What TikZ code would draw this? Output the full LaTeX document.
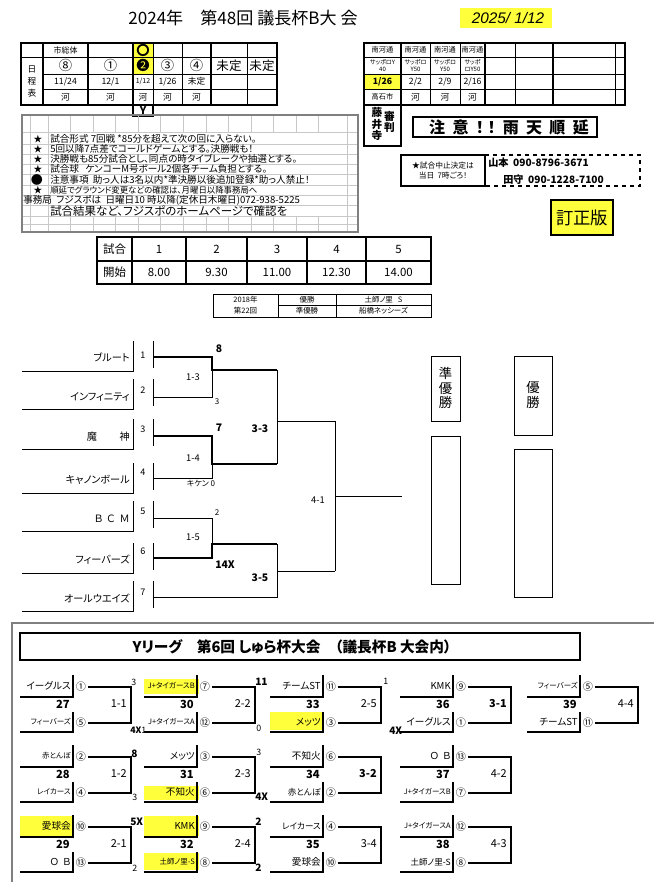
\documentclass[tikz,border=0pt]{standalone}
\usepackage{fontspec}
\setmainfont{Noto Sans CJK JP}[RawFeature=+palt]
\newfontfamily\datefont{Liberation Sans}
\usepackage{xcolor}
\definecolor{MarkYellow}{HTML}{FFFF3C}
\definecolor{GridGray}{HTML}{C8C8C8}
\definecolor{FrameGray}{HTML}{808080}
\usetikzlibrary{positioning, calc}

\newcommand{\pxfont}[1]{\fontsize{#1pt}{#1pt}\selectfont}
\newcommand{\smallname}{\pxfont{5.6}}
\newcommand{\midname}{\pxfont{6.4}}

% Y-Liga Spielblock: #1 x, #2 y, #3 Spiel, #4 Ergebnis, #5 Team oben, #6 Nr oben, #7 Team unten, #8 Nr unten
\newcommand{\ymatch}[8]{%
  \draw[yline] (#1,#2+10) -- (#1+53,#2+10) -- (#1+53,#2-12);
  \draw[yline] (#1,#2+45) -- (#1+53,#2+45) -- (#1+53,#2+25);
  \draw[ybr] (#1+68,#2) -- (#1+111,#2) -- (#1+111,#2+36) -- (#1+68,#2+36);
  \node[yname] (g#3a) at (#1+51,#2-1) {#5};
  \node[yname] (g#3b) at (#1+51,#2+35) {#7};
  \node[ycirc] (g#3na) at (#1+61,#2) {#6};
  \node[ycirc] (g#3nb) at (#1+61,#2+36) {#8};
  \node[ygame] (g#3) at (#1+50,#2+17) {#3};
  \node[yscore] (g#3s) at (#1+107,#2+17) {#4};
}

\begin{document}
\begin{tikzpicture}[x=0.75pt, y={(0pt,-0.75pt)},
  % Linien
  frame/.style={line width=1.6pt},
  cellline/.style={line width=0.6pt},
  gridline/.style={draw=GridGray, line width=0.4pt},
  winline/.style={line width=2.2pt},
  teamline/.style={line width=0.7pt},
  yline/.style={line width=1pt},
  ybr/.style={line width=1.3pt},
  % Texte
  cell/.style={inner sep=0pt, font=\pxfont{6.5}},
  smalltxt/.style={inner sep=0pt, font=\fontsize{4.5pt}{5.6pt}\selectfont, align=center},
  note/.style={inner sep=0pt, anchor=west, font=\pxfont{7.2}},
  team/.style={inner sep=0pt, anchor=east, font=\pxfont{7.6}},
  seed/.style={inner sep=0pt, font=\pxfont{6.8}},
  res/.style={inner sep=0pt, font=\pxfont{7}},
  bres/.style={inner sep=0pt, font=\pxfont{7.8}\bfseries},
  yname/.style={inner sep=0pt, anchor=east, font=\pxfont{7.2}},
  ycirc/.style={inner sep=0pt, font=\pxfont{7.6}},
  ygame/.style={inner sep=0pt, anchor=east, font=\pxfont{8.4}\bfseries},
  yscore/.style={inner sep=0pt, anchor=east, font=\pxfont{8.2}},
  yres/.style={inner sep=0pt, anchor=west, font=\pxfont{6.6}},
  yresb/.style={inner sep=0pt, anchor=west, font=\pxfont{7.6}\bfseries}
]

% =============================================================================
% HINTERGRUND
% =============================================================================
\fill[white] (0,0) rectangle (654,882);
\useasboundingbox (0,0) rectangle (654,882);

% =============================================================================
% KOPF
% =============================================================================
\node[inner sep=0pt, font=\pxfont{12.8}] (title) at (243,18) {2024年　第48回 議長杯B大 会};
\fill[MarkYellow] (460,8) rectangle (552,28);
\node[inner sep=0pt, font=\datefont\itshape\pxfont{11.5}] (date) at (508,18) {2025/ 1/12};

% =============================================================================
% TERMINE (links)
% =============================================================================
\fill[MarkYellow] (133,43) rectangle (153,74);
\draw[cellline] (21,57) -- (277,57) (43,74) -- (277,74) (43,89) -- (277,89)
  (153,43) -- (153,105) (182,43) -- (182,105) (247,43) -- (247,105);
\draw[frame] (21,43) rectangle (277,105) (43,43) -- (43,105) (88,43) -- (88,105)
  (133,43) -- (133,105) (211,43) -- (211,105);
\draw[frame] (133,105) rectangle (153,116);

\node[cell, font=\fontsize{6.5pt}{9pt}\selectfont, align=center] (plan) at (32,81) {日\\程\\表};
\node[cell, font=\pxfont{6}] (hall) at (65.5,50) {市総体};
\node[cell, font=\pxfont{10}\bfseries] (mark) at (143,50) {〇};

\node[cell, font=\pxfont{10}] (r8) at (65.5,65.5) {⑧};
\node[cell, font=\pxfont{10}] (r1) at (110.5,65.5) {①};
\node[cell, font=\pxfont{10}] (r2) at (143,65.5) {❷};
\node[cell, font=\pxfont{10}] (r3) at (167.5,65.5) {③};
\node[cell, font=\pxfont{10}] (r4) at (196.5,65.5) {④};
\node[cell, font=\pxfont{9.4}] (open1) at (229,65.5) {未定};
\node[cell, font=\pxfont{9.4}] (open2) at (262,65.5) {未定};

\node[cell] (d8) at (65.5,81.5) {11/24};
\node[cell] (d1) at (110.5,81.5) {12/1};
\node[cell, font=\pxfont{5.2}] (d2) at (143,81.5) {1/12};
\node[cell] (d3) at (167.5,81.5) {1/26};
\node[cell] (d4) at (196.5,81.5) {未定};

\node[cell] (p8) at (65.5,97) {河};
\node[cell] (p1) at (110.5,97) {河};
\node[cell] (p2) at (143,97) {河};
\node[cell] (p3) at (167.5,97) {河};
\node[cell] (p4) at (196.5,97) {河};

\node[cell, font=\pxfont{8}\bfseries] (yl) at (143,111) {Y};

% =============================================================================
% TERMINE (rechts)
% =============================================================================
\fill[MarkYellow] (364,74) rectangle (401,89);
\draw[cellline] (364,57) -- (625,57) (364,74) -- (625,74) (364,89) -- (625,89)
  (430,43) -- (430,105) (460,43) -- (460,105) (515,43) -- (515,105) (615,43) -- (615,105);
\draw[frame] (364,43) rectangle (625,105) (401,43) -- (401,105) (485,43) -- (485,105)
  (553,43) -- (553,105);

\node[cell, font=\pxfont{5.4}] (h1) at (382.5,50) {南河通};
\node[cell, font=\pxfont{5.4}] (h2) at (415.5,50) {南河通};
\node[cell, font=\pxfont{5.4}] (h3) at (445,50) {南河通};
\node[cell, font=\pxfont{5.4}] (h4) at (472.5,50) {南河通};

\node[smalltxt] (o1) at (382.5,65.5) {サッポロY\\40};
\node[smalltxt] (o2) at (415.5,65.5) {サッポロ\\Y50};
\node[smalltxt] (o3) at (445,65.5) {サッポロ\\Y50};
\node[smalltxt] (o4) at (472.5,65.5) {サッポ\\ロY50};

\node[cell, font=\pxfont{6.5}\bfseries] (e1d) at (382.5,81.5) {1/26};
\node[cell] (e2d) at (415.5,81.5) {2/2};
\node[cell] (e3d) at (445,81.5) {2/9};
\node[cell] (e4d) at (472.5,81.5) {2/16};

\node[cell, font=\pxfont{5.4}] (f1) at (382.5,97) {高石市};
\node[cell] (f2) at (415.5,97) {河};
\node[cell] (f3) at (445,97) {河};
\node[cell] (f4) at (472.5,97) {河};

% Schiedsrichter
\draw[frame] (364,105) rectangle (401,146);
\node[cell, font=\fontsize{8pt}{8.4pt}\selectfont\bfseries, align=center] (club) at (377,124) {藤\\井\\寺};
\node[cell, font=\fontsize{8pt}{8.4pt}\selectfont\bfseries, align=center] (judge) at (389.5,122) {審\\判};

% Hinweis Regen
\draw[frame] (413,117) rectangle (597,137);
\node[cell, font=\pxfont{12}\bfseries] (rain) at (509,127) {注\ \ 意\ \ ！\ ！\ \ 雨\ \ 天\ \ 順\ \ 延};

% Absage
\draw[line width=1pt] (401,155) rectangle (485,186);
\node[cell, font=\fontsize{5.8pt}{8pt}\selectfont, align=center] (stop) at (443,170.5) {★試合中止決定は\\当日\ \ 7時ごろ！};
\draw[dashed, line width=1.3pt] (485,155) rectangle (640,186);
\node[cell, anchor=west, font=\pxfont{7.6}\bfseries] (call1) at (488,163) {山本\ \ 090-8796-3671};
\node[cell, anchor=west, font=\pxfont{7.6}\bfseries] (call2) at (503,179.5) {田守\ \ 090-1228-7100};

% Korrektur
\filldraw[fill=MarkYellow, line width=1.6pt] (551,200) rectangle (613,235);
\node[cell, font=\pxfont{13}] (fix) at (582,217.5) {訂正版};

% =============================================================================
% REGELN
% =============================================================================
\draw[gridline] (22,132) -- (358,132) (22,144) -- (358,144) (22,154) -- (358,154)
  (22,164) -- (358,164) (22,174.5) -- (358,174.5) (22,185) -- (358,185)
  (22,195) -- (358,195) (22,205) -- (358,205) (22,216) -- (358,216) (22,224) -- (358,224);
\draw[gridline] (30,115) -- (30,232) (48,115) -- (48,232) (347,115) -- (347,232)
  (70,115) -- (70,132) (93,115) -- (93,132) (115,115) -- (115,132) (138,115) -- (138,132)
  (160,115) -- (160,132) (183,115) -- (183,132) (206,115) -- (206,132) (228,115) -- (228,132)
  (251,115) -- (251,132) (273,115) -- (273,132) (296,115) -- (296,132) (318,115) -- (318,132)
  (70,216) -- (70,232) (93,216) -- (93,232) (115,216) -- (115,232) (138,216) -- (138,232)
  (160,216) -- (160,232) (183,216) -- (183,232) (206,216) -- (206,232) (228,216) -- (228,232)
  (251,216) -- (251,232) (273,216) -- (273,232) (296,216) -- (296,232) (318,216) -- (318,232);
\draw[FrameGray, line width=0.8pt] (22,115) rectangle (358,232);

\node[cell, font=\pxfont{6.5}] (star1) at (38,139) {★};
\node[note] (rule1) at (50,139) {試合形式 7回戦 *85分を超えて次の回に入らない。};
\node[cell, font=\pxfont{6.5}] (star2) at (38,149) {★};
\node[note] (rule2) at (50,149) {5回以降7点差でコールドゲームとする。決勝戦も！};
\node[cell, font=\pxfont{6.5}] (star3) at (38,159) {★};
\node[note] (rule3) at (50,159) {決勝戦も85分試合とし、同点の時タイブレークや抽選とする。};
\node[cell, font=\pxfont{6.5}] (star4) at (38,169) {★};
\node[note] (rule4) at (50,169) {試合球\ \ \ ケンコーM号ボール2個各チーム負担とする。};
\node[cell, font=\pxfont{9}] (dot5) at (37,179.5) {●};
\node[note] (rule5) at (50,179.5) {注意事項\ \ 助っ人は3名以内*準決勝以後追加登録*助っ人禁止！};
\node[cell, font=\pxfont{6.5}] (star6) at (38,190) {★};
\node[note, font=\pxfont{6.3}] (rule6) at (50,190) {順延でグラウンド変更などの確認は、月曜日以降事務局へ};
\node[note] (office) at (23,200) {事務局\ \ フジスポは\ \ 日曜日10 時以降(定休日木曜日)072-938-5225};
\node[note, font=\pxfont{8.6}] (web) at (50,211) {試合結果など、フジスポのホームページで確認を};

% =============================================================================
% ZEITPLAN
% =============================================================================
\draw[line width=0.8pt] (97,261) -- (431,261) (132,237) -- (132,284) (186,237) -- (186,284)
  (247,237) -- (247,284) (307,237) -- (307,284) (366,237) -- (366,284);
\draw[frame] (97,237) rectangle (431,284);
\node[cell, font=\pxfont{8.6}] (game) at (114.5,249) {試合};
\node[cell, font=\pxfont{8.6}] (n1) at (159,249) {1};
\node[cell, font=\pxfont{8.6}] (n2) at (216.5,249) {2};
\node[cell, font=\pxfont{8.6}] (n3) at (277,249) {3};
\node[cell, font=\pxfont{8.6}] (n4) at (336.5,249) {4};
\node[cell, font=\pxfont{8.6}] (n5) at (398.5,249) {5};
\node[cell, font=\pxfont{8.6}] (start) at (114.5,272.5) {開始};
\node[cell, font=\pxfont{8.6}] (t800) at (159,272.5) {8.00};
\node[cell, font=\pxfont{8.6}] (t930) at (216.5,272.5) {9.30};
\node[cell, font=\pxfont{8.6}] (t1100) at (277,272.5) {11.00};
\node[cell, font=\pxfont{8.6}] (t1230) at (336.5,272.5) {12.30};
\node[cell, font=\pxfont{8.6}] (t1400) at (398.5,272.5) {14.00};

% Vorjahressieger
\draw[line width=0.7pt] (213,294) rectangle (431,317) (278,294) -- (278,317) (336,294) -- (336,317)
  (278,305.5) -- (431,305.5);
\node[cell, font=\fontsize{5.6pt}{8.2pt}\selectfont, align=center] (year) at (245.5,305.5) {2018年\\第22回};
\node[cell, font=\pxfont{5.6}] (win) at (307,300) {優勝};
\node[cell, font=\pxfont{5.6}] (second) at (307,311) {準優勝};
\node[cell, font=\pxfont{5.6}] (winteam) at (383.5,300) {土師ノ里\ \ \ S};
\node[cell, font=\pxfont{5.6}] (secteam) at (383.5,311) {船橋ネッシーズ};

% =============================================================================
% TURNIER
% =============================================================================
\draw[teamline] (22,371) -- (133,371) -- (133,341) (22,409) -- (133,409) -- (133,379)
  (22,449) -- (133,449) -- (133,419) (22,493) -- (133,493) -- (133,463)
  (22,531) -- (133,531) -- (133,501) (22,573) -- (133,573) -- (133,543)
  (22,611) -- (133,611) -- (133,581);
\draw[teamline] (153,341) -- (153,368) (153,379) -- (153,406) (153,419) -- (153,446)
  (153,463) -- (153,490) (153,501) -- (153,528) (153,543) -- (153,570) (153,581) -- (153,608);

\node[team] (t1) at (130,357) {ブルート};
\node[team] (t2) at (130,397) {インフィニティ};
\node[team] (t3) at (130,437) {魔\ \ \ \ \ \ \ \ \ \ 神};
\node[team] (t4) at (130,480) {キャノンボール};
\node[team] (t5) at (130,519) {Ｂ\ \ Ｃ\ \ Ｍ};
\node[team] (t6) at (130,560) {フィーバーズ};
\node[team] (t7) at (130,598) {オールウエイズ};

\node[seed] (s1) at (143,355) {1};
\node[seed] (s2) at (143,390) {2};
\node[seed] (s3) at (143,429) {3};
\node[seed] (s4) at (143,472) {4};
\node[seed] (s5) at (143,511) {5};
\node[seed] (s6) at (143,551) {6};
\node[seed] (s7) at (143,592) {7};

\coordinate (e1) at (153,357);
\coordinate (e2) at (153,397);
\coordinate (e3) at (153,436);
\coordinate (e4) at (153,478);
\coordinate (e5) at (153,518);
\coordinate (e6) at (153,558);
\coordinate (e7) at (153,597);
\coordinate (j1) at (212,370);
\coordinate (j2) at (212,464);
\coordinate (j3) at (212,544);
\coordinate (k1) at (277,421);
\coordinate (k2) at (277,571);
\coordinate (fin) at (335,496);
\coordinate (finend) at (402,496);

\draw[teamline] (e2) -| (j1);
\draw[teamline] (e4) -| (j2);
\draw[teamline] (e5) -| (j3);
\draw[teamline] (j1 -| k1) -- (j2 -| k1) (k1) -- (k1 -| fin);
\draw[teamline] (e7) -| (j3 -| k2) (k2) -- (k2 -| fin);
\draw[teamline] (k1 -| fin) -- (k2 -| fin) (fin) -- (finend);
\draw[winline] (e1) -| (j1) -- (j1 -| k1);
\draw[winline] (e3) -| (j2) -- (j2 -| k1);
\draw[winline] (e6) -| (j3) -- (j3 -| k2);

\node[bres] (sc1) at (219,349) {8};
\node[res] (m1) at (193,377) {1-3};
\node[res, font=\pxfont{6}] (sc2) at (217,402) {3};
\node[bres] (sc3) at (219,428) {7};
\node[bres] (semi1) at (260,429) {3-3};
\node[res] (m2) at (193,458) {1-4};
\node[res, font=\pxfont{6}] (sc4) at (201,484) {キケン 0};
\node[res, font=\pxfont{6}] (sc5) at (217,513) {2};
\node[res] (m3) at (193,537) {1-5};
\node[bres] (sc6) at (225,565) {14X};
\node[bres] (semi2) at (260,578) {3-5};
\node[res] (final) at (318,500) {4-1};

% Sieger
\draw[line width=0.7pt] (431,356) rectangle (460,421) (431,436) rectangle (460,584);
\node[cell, font=\fontsize{10pt}{11pt}\selectfont, align=center] (runner) at (445.5,388) {準\\優\\勝};
\draw[line width=0.7pt] (514,356) rectangle (552,435) (514,449) rectangle (552,597);
\node[cell, font=\fontsize{10pt}{11pt}\selectfont, align=center] (champ) at (533,395) {優\\勝};

% =============================================================================
% Y-LIGA
% =============================================================================
\draw[FrameGray, line width=0.8pt] (654,623) -- (12,623) -- (12,882);
\draw[line width=1.8pt] (20,633) rectangle (580,660);
\node[cell, font=\pxfont{11}\bfseries] (ytitle) at (292,646.5) {Yリーグ　第6回 しゅら杯大会　（議長杯B 大会内）};

% markierte Teams
\fill[MarkYellow] (144,679) rectangle (199,694);
\fill[MarkYellow] (270,712) rectangle (323,730);
\fill[MarkYellow] (144,786) rectangle (199,800);
\fill[MarkYellow] (20,816) rectangle (73,836);
\fill[MarkYellow] (144,816) rectangle (199,836);
\fill[MarkYellow] (144,853) rectangle (199,870);

% Reihe 1
\ymatch{20}{687}{27}{1-1}{イーグルス}{①}{\smallname フィーバーズ}{⑤}
\ymatch{144}{687}{30}{2-2}{\smallname J+タイガースB}{⑦}{\smallname J+タイガースA}{⑫}
\ymatch{270}{687}{33}{2-5}{チームST}{⑪}{メッツ}{③}
\ymatch{400}{687}{36}{\bfseries 3-1}{KMK}{⑨}{イーグルス}{①}
\ymatch{527}{687}{39}{4-4}{\smallname フィーバーズ}{⑤}{チームST}{⑪}

% Reihe 2
\ymatch{20}{757}{28}{1-2}{\smallname 赤とんぼ}{②}{\smallname レイカース}{④}
\ymatch{144}{757}{31}{2-3}{メッツ}{③}{不知火}{⑥}
\ymatch{270}{757}{34}{\bfseries 3-2}{不知火}{⑥}{\midname 赤とんぼ}{②}
\ymatch{400}{757}{37}{4-2}{Ｏ\ \ Ｂ}{⑬}{\smallname J+タイガースB}{⑦}

% Reihe 3
\ymatch{20}{827}{29}{2-1}{愛球会}{⑩}{Ｏ\ \ Ｂ}{⑬}
\ymatch{144}{827}{32}{2-4}{KMK}{⑨}{\smallname 土師ノ里-S}{⑧}
\ymatch{270}{827}{35}{3-4}{\midname レイカース}{④}{愛球会}{⑩}
\ymatch{400}{827}{38}{4-3}{\smallname J+タイガースA}{⑫}{\midname 土師ノ里-S}{⑧}

% Ergebnisse
\node[yres] (x27a) at (131,682) {3};
\node[yres] (x27b) at (130,730) {{\bfseries 4X}1};
\node[yresb] (x30a) at (255,682) {11};
\node[yres] (x30b) at (256,728) {0};
\node[yres] (x33a) at (383,681) {1};
\node[yresb] (x33b) at (389,731) {4X};
\node[yresb] (x28a) at (131,754) {8};
\node[yres] (x28b) at (132,797) {3};
\node[yres] (x31a) at (256,752) {3};
\node[yresb] (x31b) at (255,797) {4X};
\node[yresb] (x29a) at (130,822) {5X};
\node[yres] (x29b) at (132,868) {2};
\node[yresb] (x32a) at (255,822) {2};
\node[yresb] (x32b) at (255,868) {2};

\end{tikzpicture}
\end{document}
